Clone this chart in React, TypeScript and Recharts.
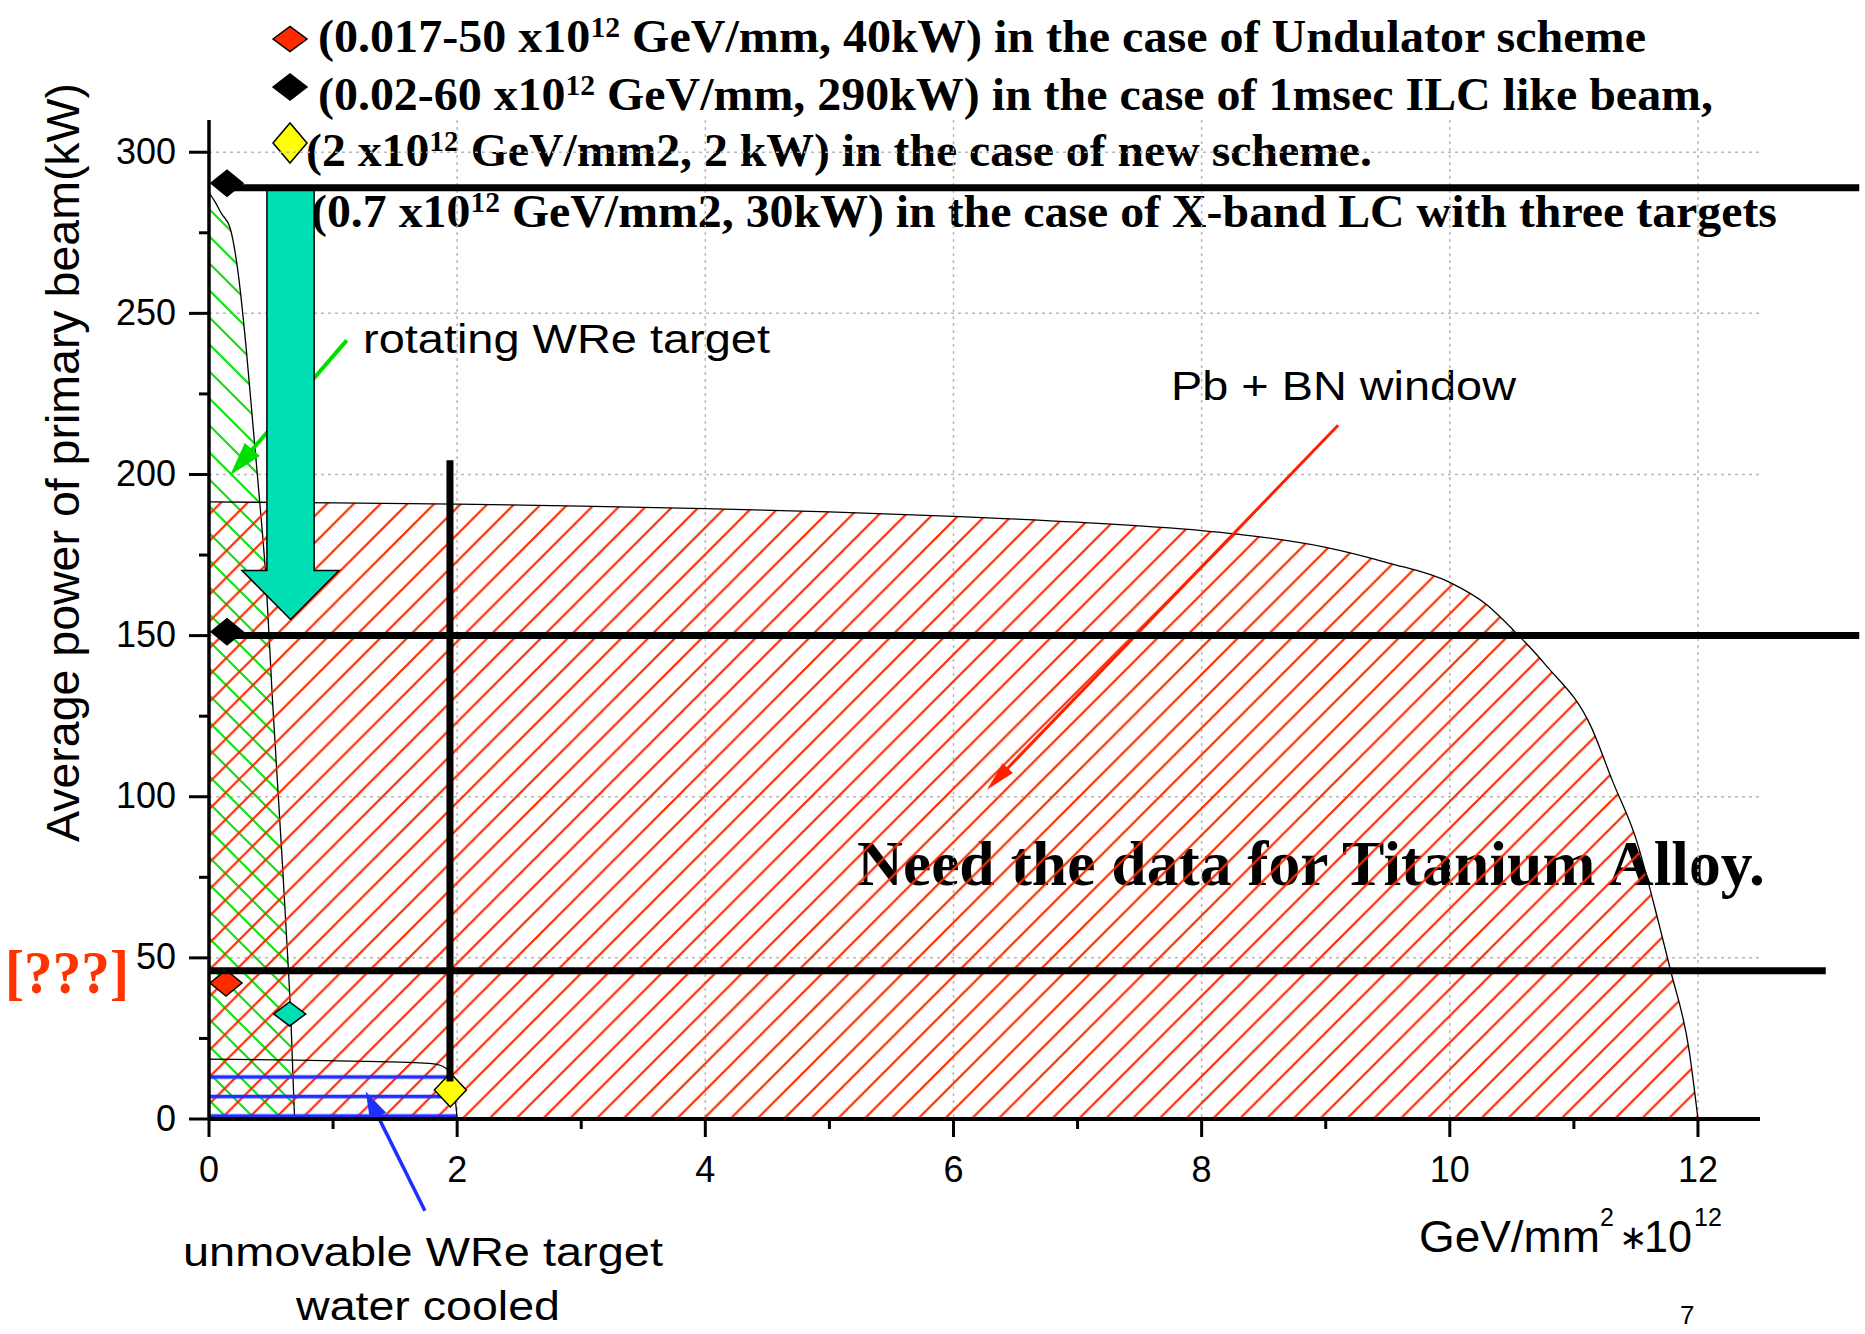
import React from "react";
import { ComposedChart, Area, Scatter, XAxis, YAxis, CartesianGrid, ReferenceLine } from "recharts";

const W = 1865;
const H = 1334;

// Pb + BN window (red hatch)
const pbX = [0, 1, 2, 3, 4, 5, 6, 7, 8, 8.5, 9, 9.5, 10, 10.3, 10.52, 10.77, 11.14, 11.31, 11.5, 11.68, 11.78, 11.93, 12];
const pbKW = [191.5, 191.2, 190.8, 190.2, 189.4, 188.4, 187, 185.2, 182.6, 180.5, 177.4, 172.6, 166.5, 159.5, 151.4, 141, 121.6, 105, 87, 61.4, 46, 21, 0];

// rotating WRe target (green hatch)
const rotX = [0, 0.05, 0.1, 0.17, 0.235, 0.3, 0.355, 0.41, 0.46, 0.51, 0.578, 0.642, 0.66, 0.675, 0.69];
const rotKW = [287.5, 284.5, 281, 276.5, 262.5, 239, 215, 191, 167, 131, 88, 45, 31, 15, 0];

// unmovable WRe target, water cooled (blue hatch)
const fixX = [0, 0.7, 1.37, 1.7, 1.81, 1.9, 1.96, 1.985, 2];
const fixKW = [18.6, 18.3, 17.8, 17.4, 17.1, 16, 13, 6, 0];

// operating points
const undulatorX = [0.137];
const undulatorKW = [42.2];
const ilcX = [0.145, 0.145];
const ilcKW = [290.4, 151.2];
const xbandX = [0.65];
const xbandKW = [32.6];
const newSchemeX = [1.945];
const newSchemeKW = [9.0];

// thick guide lines
const limitKW = [289, 150, 46];
const limitStartX = [0.145, 0.145, 0];
const limitEndX = [13.3, 13.3, 13.03];
const newSchemeLineX = 1.942;
const newSchemeLineKW = [204.4, 11.6];

// arrows: [tailX, tailKW, tipX, tipKW]
const coolArrow = [0.657, 288.6, 0.657, 155.0];
const rotArrow = [1.11, 241.6, 0.17, 199.8];
const pbArrow = [9.1, 215.3, 6.27, 102.2];
const fixArrow = [1.74, -28.5, 1.263, 8.5];

const xTicks = [0, 1, 2, 3, 4, 5, 6, 7, 8, 9, 10, 11, 12];
const yTicks = [0, 25, 50, 75, 100, 125, 150, 175, 200, 225, 250, 275, 300];
const xGrid = [2, 4, 6, 8, 10, 12];
const yGrid = [50, 100, 150, 200, 250, 300];

const legendHead = ["(0.017-50 x10", "(0.02-60 x10", "(2 x10", "(0.7 x10"];
const legendTail = [
  " GeV/mm, 40kW) in the case of Undulator scheme",
  " GeV/mm, 290kW) in the case of 1msec ILC like beam,",
  " GeV/mm2, 2 kW) in the case of new scheme.",
  " GeV/mm2, 30kW) in the case of X-band LC with three targets",
];
const legendColor = ["#ff2a00", "#000000", "#ffff00", ""];

// legend layout
const legendX = [318, 318, 306, 311];
const legendBase = [52, 110, 166, 227];
const legendLen = [1328, 1395, 1066, 1466];
const legendMarkY = [39, 87, 143];
const legendMarkH = [12.5, 13, 20];

const SANS = "'Liberation Sans', Arial, sans-serif";
const SERIF = "'Liberation Serif', 'Times New Roman', serif";

const toPoints = (xs: number[], ys: number[]) => xs.map((x, i) => ({ x, kw: ys[i] }));
const diamond = (cx: number, cy: number, hw: number, hh: number) =>
  `M${cx - hw},${cy} L${cx},${cy - hh} L${cx + hw},${cy} L${cx},${cy + hh} Z`;

const diamondShape = (fill: string, hw: number, hh: number) => (p: any) => (
  <path d={diamond(p.cx, p.cy, hw, hh)} fill={fill} stroke="#000" strokeWidth={1.5} />
);

function blockArrow(p: any) {
  const { x1, y1, x2, y2 } = p;
  const len = Math.hypot(x2 - x1, y2 - y1);
  const ux = (x2 - x1) / len;
  const uy = (y2 - y1) / len;
  const nx = -uy;
  const ny = ux;
  const shaft = 23.6;
  const head = 48.5;
  const headLen = 49;
  const bx = x2 - ux * headLen;
  const by = y2 - uy * headLen;
  const pts = [
    [x1 + nx * shaft, y1 + ny * shaft],
    [bx + nx * shaft, by + ny * shaft],
    [bx + nx * head, by + ny * head],
    [x2, y2],
    [bx - nx * head, by - ny * head],
    [bx - nx * shaft, by - ny * shaft],
    [x1 - nx * shaft, y1 - ny * shaft],
  ];
  return <polygon points={pts.map((q) => q.join(",")).join(" ")} fill="#00dfb3" stroke="#000" strokeWidth={1.5} />;
}

const thinArrow = (color: string, w: number, headLen: number, headHalf: number) => (p: any) => {
  const { x1, y1, x2, y2 } = p;
  const len = Math.hypot(x2 - x1, y2 - y1);
  const ux = (x2 - x1) / len;
  const uy = (y2 - y1) / len;
  const nx = -uy;
  const ny = ux;
  const bx = x2 - ux * headLen;
  const by = y2 - uy * headLen;
  return (
    <g>
      <line x1={x1} y1={y1} x2={bx + ux * 4} y2={by + uy * 4} stroke={color} strokeWidth={w} />
      <polygon
        points={`${x2},${y2} ${bx + nx * headHalf},${by + ny * headHalf} ${bx - nx * headHalf},${by - ny * headHalf}`}
        fill={color}
      />
    </g>
  );
};

const YTick = (props: any) => {
  const { x, y, payload } = props;
  const v = payload.value;
  const major = v % 50 === 0;
  return (
    <g>
      <line x1={x - (major ? 20 : 10)} x2={x} y1={y} y2={y} stroke="#000" strokeWidth={3} />
      {major && (
        <text x={x - 33} y={y + 11.5} textAnchor="end" fontFamily={SANS} fontSize={36} fill="#000">
          {v}
        </text>
      )}
    </g>
  );
};

const XTick = (props: any) => {
  const { x, y, payload } = props;
  const v = payload.value;
  const major = v % 2 === 0;
  return (
    <g>
      <line x1={x} x2={x} y1={y} y2={y + (major ? 18 : 10)} stroke="#000" strokeWidth={3} />
      {major && (
        <text x={x} y={y + 63} textAnchor="middle" fontFamily={SANS} fontSize={36} fill="#000">
          {v}
        </text>
      )}
    </g>
  );
};

const seg = (a: number[]) => [
  { x: a[0], y: a[1] },
  { x: a[2], y: a[3] },
];

export default function App() {
  return (
    <div style={{ position: "absolute", left: 0, top: 0, width: W, height: H, background: "#fff", overflow: "hidden" }}>
      <svg width={W} height={H} style={{ position: "absolute", left: 0, top: 0 }}>
        {legendHead.map((head, i) => (
          <g key={i}>
            {legendColor[i] && (
              <path d={diamond(290, legendMarkY[i], 17, legendMarkH[i])} fill={legendColor[i]} stroke="#000" strokeWidth={1.5} />
            )}
            <text
              x={legendX[i]}
              y={legendBase[i]}
              fontFamily={SERIF}
              fontWeight="bold"
              fontSize={47}
              textLength={legendLen[i]}
              lengthAdjust="spacingAndGlyphs"
              fill="#000"
            >
              {head}
              <tspan fontSize={29} dy={-15}>12</tspan>
              <tspan dy={15}>{legendTail[i]}</tspan>
            </text>
          </g>
        ))}

        <text x={78.5} y={462.5} transform="rotate(-90 78.5 462.5)" textAnchor="middle" fontFamily={SANS} fontSize={46} textLength={759} lengthAdjust="spacingAndGlyphs" fill="#000">
          Average power of primary beam(kW)
        </text>

        <text x={363} y={353} fontFamily={SANS} fontSize={40} textLength={407} lengthAdjust="spacingAndGlyphs" fill="#000">
          rotating WRe target
        </text>
        <text x={1171} y={400} fontFamily={SANS} fontSize={41} textLength={345} lengthAdjust="spacingAndGlyphs" fill="#000">
          Pb + BN window
        </text>
        <text x={183} y={1266} fontFamily={SANS} fontSize={40} textLength={480} lengthAdjust="spacingAndGlyphs" fill="#000">
          unmovable WRe target
        </text>
        <text x={296} y={1320} fontFamily={SANS} fontSize={40} textLength={264} lengthAdjust="spacingAndGlyphs" fill="#000">
          water cooled
        </text>
        <text x={857} y={885} fontFamily={SERIF} fontWeight="bold" fontSize={64} textLength={908} lengthAdjust="spacingAndGlyphs" fill="#000">
          Need the data for Titanium Alloy.
        </text>
        <text x={5} y={993} fontFamily={SERIF} fontWeight="bold" fontSize={62} textLength={124} lengthAdjust="spacingAndGlyphs" fill="#ff3300">
          [???]
        </text>

        <text x={1419} y={1252} fontFamily={SANS} fontSize={44} textLength={181} lengthAdjust="spacingAndGlyphs" fill="#000">GeV/mm</text>
        <text x={1600} y={1226} fontFamily={SANS} fontSize={25} fill="#000">2</text>
        <text x={1619} y={1249} fontFamily={SANS} fontSize={34} fill="#000">∗</text>
        <text x={1644} y={1252} fontFamily={SANS} fontSize={44} textLength={48} lengthAdjust="spacingAndGlyphs" fill="#000">10</text>
        <text x={1694} y={1226} fontFamily={SANS} fontSize={25} fill="#000">12</text>

        <text x={1680} y={1324} fontFamily={SANS} fontSize={26} fill="#000">7</text>
      </svg>

      <div style={{ position: "absolute", left: 0, top: 0 }}>
        <ComposedChart width={W} height={H} margin={{ top: 120, right: 105, bottom: 155, left: 89 }}>
          <defs>
            <pattern id="hatchRed" patternUnits="userSpaceOnUse" width={26.8} height={26.8}>
              <path d="M0,26.8 L26.8,0 M-3,3 L3,-3 M23.8,29.8 L29.8,23.8" stroke="#ff2a00" strokeWidth={2.2} />
            </pattern>
            <pattern id="hatchGreen" patternUnits="userSpaceOnUse" width={27} height={27}>
              <path d="M0,0 L27,27 M-3,24 L3,30 M24,-3 L30,3" stroke="#14e014" strokeWidth={2.2} />
            </pattern>
            <pattern id="hatchBlue" patternUnits="userSpaceOnUse" width={40} height={19.5}>
              <line x1={0} x2={40} y1={4.5} y2={4.5} stroke="#1f2fff" strokeWidth={3.5} />
            </pattern>
          </defs>
          <CartesianGrid
            horizontalValues={yGrid}
            verticalValues={xGrid}
            stroke="#b8b8b8"
            strokeWidth={1.5}
            strokeDasharray="3 4"
          />
          <XAxis
            type="number"
            dataKey="x"
            domain={[0, 12.5]}
            ticks={xTicks}
            interval={0}
            height={60}
            tickSize={0}
            tickMargin={0}
            tickLine={false}
            axisLine={{ stroke: "#000", strokeWidth: 4 }}
            tick={(p: any) => <XTick {...p} />}
          />
          <YAxis
            type="number"
            dataKey="kw"
            domain={[0, 310]}
            ticks={yTicks}
            interval={0}
            width={120}
            tickSize={0}
            tickMargin={0}
            tickLine={false}
            axisLine={{ stroke: "#000", strokeWidth: 3.5 }}
            tick={(p: any) => <YTick {...p} />}
          />
          <Area
            data={toPoints(rotX, rotKW)}
            dataKey="kw"
            type="monotone"
            stroke="#000"
            strokeWidth={1.3}
            fill="url(#hatchGreen)"
            fillOpacity={1}
            dot={false}
            activeDot={false}
            isAnimationActive={false}
          />
          <Area
            data={toPoints(pbX, pbKW)}
            dataKey="kw"
            type="monotone"
            stroke="#000"
            strokeWidth={1.3}
            fill="url(#hatchRed)"
            fillOpacity={1}
            dot={false}
            activeDot={false}
            isAnimationActive={false}
          />
          <Area
            data={toPoints(fixX, fixKW)}
            dataKey="kw"
            type="monotone"
            stroke="#000"
            strokeWidth={1.3}
            fill="url(#hatchBlue)"
            fillOpacity={1}
            dot={false}
            activeDot={false}
            isAnimationActive={false}
          />
          <ReferenceLine segment={seg(rotArrow)} ifOverflow="visible" shape={thinArrow("#00e000", 4, 34, 10)} zIndex={150} />
          <ReferenceLine segment={seg(coolArrow)} ifOverflow="visible" shape={blockArrow} zIndex={160} />
          <ReferenceLine segment={seg(pbArrow)} ifOverflow="visible" shape={thinArrow("#ff2000", 3, 30, 7)} zIndex={170} />
          <ReferenceLine segment={seg(fixArrow)} ifOverflow="visible" shape={thinArrow("#1f2fff", 3.5, 28, 9)} zIndex={170} />
          <Scatter data={toPoints(undulatorX, undulatorKW)} dataKey="kw" shape={diamondShape("#ff2a00", 16, 13)} isAnimationActive={false} />
          <Scatter data={toPoints(ilcX, ilcKW)} dataKey="kw" shape={diamondShape("#000000", 16, 13)} isAnimationActive={false} />
          <Scatter data={toPoints(xbandX, xbandKW)} dataKey="kw" shape={diamondShape("#00dfb3", 16, 12)} isAnimationActive={false} />
          <Scatter data={toPoints(newSchemeX, newSchemeKW)} dataKey="kw" shape={diamondShape("#ffff00", 16, 17)} isAnimationActive={false} />
          {limitKW.map((kw, i) => (
            <ReferenceLine
              key={"lim" + i}
              segment={[
                { x: limitStartX[i], y: kw },
                { x: limitEndX[i], y: kw },
              ]}
              stroke="#000"
              strokeWidth={7}
              ifOverflow="visible"
              zIndex={700}
            />
          ))}
          <ReferenceLine
            segment={[
              { x: newSchemeLineX, y: newSchemeLineKW[0] },
              { x: newSchemeLineX, y: newSchemeLineKW[1] },
            ]}
            stroke="#000"
            strokeWidth={7}
            ifOverflow="visible"
            zIndex={700}
          />
        </ComposedChart>
      </div>
    </div>
  );
}
